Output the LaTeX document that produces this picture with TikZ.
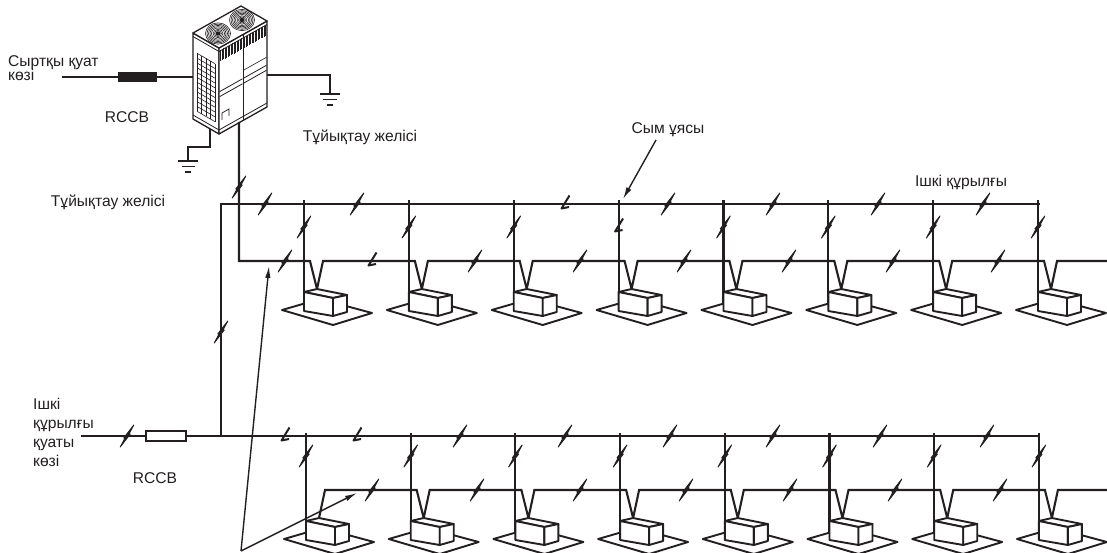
\documentclass[tikz,border=0pt]{standalone}
\usepackage{fontspec}
\setmainfont{Liberation Sans}
\usetikzlibrary{arrows.meta,calc}
\definecolor{ink}{HTML}{231F20}

\begin{document}
\begin{tikzpicture}[x=1pt,y=-1pt,
  wire/.style={line width=2.1pt, draw=ink},
  unitline/.style={line width=1.9pt, draw=ink, line join=round},
  fine/.style={line width=0.6pt, draw=ink},
  shell/.style={draw=ink, fill=white, line width=1.3pt, line join=round},
  lbl/.style={font=\fontsize{15.6}{19}\selectfont, text=ink, inner sep=0pt},
  pointer/.style={line width=1.4pt, draw=ink, -{Latex[length=12pt,width=5.5pt]}},
  % lightning-shaped wire count mark
  bolt/.pic={\filldraw[draw=ink, fill=ink, line width=0.9pt, line join=round]
      (6.8,-11) -- (-3.2,1.9) -- (0.8,0.2) -- cycle
      (-6.8,11) -- (3.2,-1.9) -- (-0.8,-0.2) -- cycle;},
  hook/.pic={\draw[line width=2pt, ink, line join=round]
      (4.5,-8.5) -- (-3.5,4.5) -- (4,3);},
  % indoor unit: base plate, box and faces; origin = drop line / signal level
  indoor/.pic={
    \filldraw[fill=white, unitline] (-22,49) -- (16,38) -- (68,52) -- (29,64) -- cycle;
    \filldraw[fill=white, unitline] (0,31) -- (13,28) -- (43,34) -- (29,37) -- cycle;
    \filldraw[fill=white, unitline] (0,31) -- (29,37) -- (29,55) -- (0,50) -- cycle;
    \filldraw[fill=white, unitline] (29,37) -- (43,34) -- (43,51) -- (29,55) -- cycle;
  }]
\useasboundingbox (0,0) rectangle (1107,553);

% ---------------- outdoor unit ----------------
\coordinate (oL)  at (193,33);  \coordinate (oF)  at (219,48);
\coordinate (oR)  at (267,21);  \coordinate (oB)  at (241,6);
\coordinate (oLb) at (193,119); \coordinate (oFb) at (219,134);
\coordinate (oRb) at (267,107);
\filldraw[shell] (oL) -- (oF) -- (oFb) -- (oLb) -- cycle;
\filldraw[shell] (oF) -- (oR) -- (oRb) -- (oFb) -- cycle;
\filldraw[shell] (oL) -- (oF) -- (oR) -- (oB) -- cycle;
% roof rim and base plinth
\draw[fine, line width=0.8pt] (193,36.5) -- (219,51.5) -- (267,24.5);
\draw[fine, line width=0.8pt] (193,115) -- (219,130) -- (267,103);
% front face split into two panels
\draw[fine, line width=0.8pt] (243,34.5) -- (243,120.5);
% vent hatching under the roof
\foreach \x in {220.5,222,...,242} {
  \draw[line width=0.6pt, ink] (\x,{48-0.5625*(\x-219)+3}) -- (\x,{48-0.5625*(\x-219)+14});
}
\foreach \x in {244.5,246,...,266} {
  \draw[line width=0.6pt, ink] (\x,{48-0.5625*(\x-219)+3}) -- (\x,{48-0.5625*(\x-219)+14});
}
% panel seams
\foreach \o in {44,49} {
  \draw[fine, line width=0.8pt] (219.5,{48-0.5625*0.5+\o}) -- (242.5,{48-0.5625*23.5+\o});
  \draw[fine, line width=0.8pt] (243.5,{48-0.5625*24.5+\o}) -- (266.5,{48-0.5625*47.5+\o});
}
\draw[fine] (243.5,{48-0.5625*24.5+36}) -- (266.5,{48-0.5625*47.5+36});
% small service hatch
\draw[fine, line width=0.8pt] (222,120) -- (222,113) -- (229,109) -- (229,116);
% coil grille on the side face
\foreach \x in {197,201.5,206,210.5,215} {
  \draw[fine] (\x,{33+0.577*(\x-193)+18}) -- (\x,{33+0.577*(\x-193)+76});
}
\foreach \j in {0,...,12} {
  \draw[fine] (197,{33+0.577*4+18+4.83*\j}) -- (215,{33+0.577*22+18+4.83*\j});
}
% fans on the roof
\foreach \c in {(218,33.5),(242,20)} {
  \foreach \r in {3.5,5,...,12.5} {
    \draw[line width=0.6pt, ink] \c ellipse ({\r} and {\r*0.85});
  }
  \fill[ink] \c ellipse (2.5 and 2.2);
}

% ---------------- outdoor unit wiring ----------------
\coordinate (srcTop) at (62,77);
\coordinate (oduIn) at (193,77);
\node[fill=ink, minimum width=39pt, minimum height=10pt, inner sep=0pt] (rccbA) at (137.5,77) {};
\draw[ink, line width=1.3pt] (srcTop) -- (rccbA.west);
\draw[ink, line width=1.3pt] (rccbA.east) -- (oduIn);
% earth on the right
\coordinate (gR0) at (267,75); \coordinate (gR1) at (330,75); \coordinate (gR2) at (330,94);
\draw[ink, line width=1.3pt] (gR0) -- (gR1) -- (gR2);
\draw[ink, line width=1.6pt] (320,94) -- (340,94) (323,99.5) -- (337,99.5) (327,105) -- (333,105);
% earth on the left
\coordinate (gL0) at (210,129); \coordinate (gL1) at (210,147);
\coordinate (gL2) at (188,147); \coordinate (gL3) at (188,161);
\draw[ink, line width=1.3pt] (gL0) -- (gL1) -- (gL2) -- (gL3);
\draw[ink, line width=1.6pt] (178,161) -- (198,161) (181.5,166.5) -- (194.5,166.5) (185,172) -- (191,172);

% ---------------- power buses ----------------
\coordinate (inPow) at (81,436);
\node[draw=ink, line width=1.9pt, fill=white, minimum width=40pt, minimum height=10pt, inner sep=0pt] (rccbB) at (166,436) {};
\coordinate (busB0) at (221,436);
\coordinate (busT0) at (221,204);
\coordinate (busT1) at (1040,204);
\coordinate (busB1) at (1039,436);
\draw[wire] (inPow) -- (rccbB.west);
\draw[wire] (rccbB.east) -- (busB1);
\draw[wire] (busB0) -- (busT0) -- (busT1);

% drops to the indoor units
\foreach \k in {0,...,7} {
  \coordinate (dT\k) at ({304+104.86*\k},200);
  \coordinate (uT\k) at ({304+104.86*\k},261);
  \coordinate (dB\k) at ({306+104.7*\k},433);
  \coordinate (uB\k) at ({306+104.7*\k},490);
  \draw[wire] (dT\k) -- ($(uT\k)+(0,50)$);
  \draw[wire] (dB\k) -- ($(uB\k)+(0,50)$);
}

% ---------------- signal (closing) lines ----------------
\coordinate (oduOut) at (239,122);
\draw[wire, line join=miter] (oduOut) -- (239,261)
  \foreach \k in {0,...,7} {
    -- ({304+104.86*\k+6},261) -- ({304+104.86*\k+13},289) -- ({304+104.86*\k+19},261)
  } -- (1107,261);
\draw[wire, line join=miter] ({306+13},518) -- ({306+19},490)
  \foreach \k in {1,...,7} {
    -- ({306+104.7*\k+6},490) -- ({306+104.7*\k+13},518) -- ({306+104.7*\k+19},490)
  } -- (1107,490);

% indoor units
\foreach \k in {0,...,7} {
  \pic at (uT\k) {indoor};
  \pic at (uB\k) {indoor};
}

% ---------------- wire count marks ----------------
\pic at (239,187) {bolt};
\foreach \x in {265,357,668,773,878,983} { \pic at (\x,204) {bolt}; }
\pic at (565,204) {hook};
\foreach \k in {0,1,2,4,5,6,7} { \pic at ({304+104.86*\k},227) {bolt}; }
\pic at ({304+104.86*3},227) {hook};
\foreach \x in {285,475,580,684,789,893,998} { \pic at (\x,261) {bolt}; }
\pic at (372,261) {hook};

\pic at (127,436) {bolt};
\pic at (221,332) {bolt};
\foreach \x in {460,565,670,773,880,987} { \pic at (\x,436) {bolt}; }
\pic at (285,436) {hook};
\pic at (357,436) {hook};
\foreach \k in {0,...,7} { \pic at ({306+104.7*\k},456) {bolt}; }
\foreach \x in {372,477,580,686,790,895,1000} { \pic at (\x,490) {bolt}; }

% ---------------- pointers ----------------
\coordinate (ptrBase) at (241,551);
\coordinate (ptrTop) at (269,266);
\coordinate (ptrBot) at (357,493);
\draw[pointer] (ptrBase) -- (ptrTop);
\draw[pointer] (ptrBase) -- (ptrBot);
\coordinate (trayTail) at (656,140);
\coordinate (trayTip) at (623,199);
\draw[pointer] (trayTail) -- (trayTip);

% ---------------- labels ----------------
\node[lbl, anchor=base west] (tSrc1) at (8,67) {Сыртқы қуат};
\node[lbl, anchor=base west] (tSrc2) at (8,81) {көзі};
\node[lbl] (tRccbA) at (127,117) {RCCB};
\node[lbl] (tClose1) at (360,137) {Тұйықтау желісі};
\node[lbl] (tClose2) at (108,202) {Тұйықтау желісі};
\node[lbl] (tTray) at (668,130) {Сым ұясы};
\node[lbl] (tIndoor) at (961,182) {Ішкі құрылғы};
\node[lbl, anchor=base west] (tIn1) at (33,409) {Ішкі};
\node[lbl, anchor=base west] (tIn2) at (33,428) {құрылғы};
\node[lbl, anchor=base west] (tIn3) at (33,447) {қуаты};
\node[lbl, anchor=base west] (tIn4) at (33,466) {көзі};
\node[lbl] (tRccbB) at (155,478) {RCCB};
\end{tikzpicture}
\end{document}
